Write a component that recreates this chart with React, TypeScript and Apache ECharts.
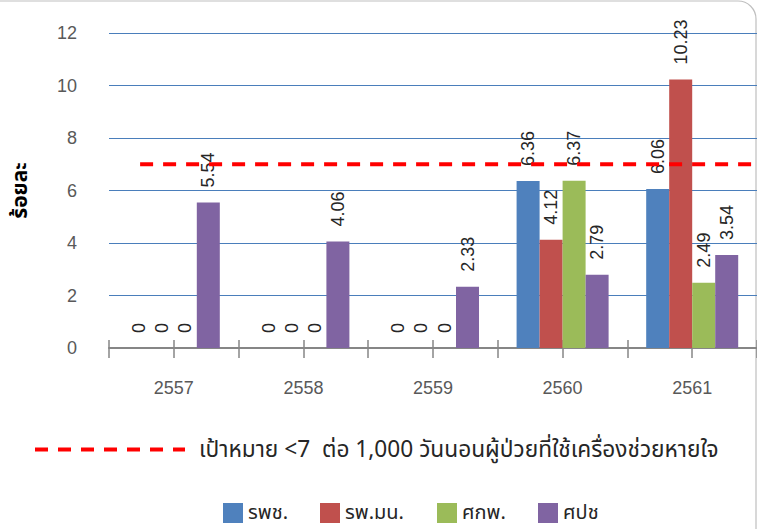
import React, { useEffect, useRef } from "react";
import * as echarts from "echarts";

// Fiscal years (Buddhist calendar)
const YEARS = ["2557", "2558", "2559", "2560", "2561"];

// Rates per unit, one array per unit
const SERIES_NAMES = ["รพช.", "รพ.มน.", "ศกพ.", "ศปช"];
const RPCH = [0, 0, 0, 6.36, 6.06];
const RPMN = [0, 0, 0, 4.12, 10.23];
const SKP = [0, 0, 0, 6.37, 2.49];
const SPCH = [5.54, 4.06, 2.33, 2.79, 3.54];
const SERIES_VALUES = [RPCH, RPMN, SKP, SPCH];
const SERIES_COLORS = ["#4F81BD", "#C0504D", "#9BBB59", "#8064A2"];

// Target line (value 7), spanning from a quarter into the first year to the end
const TARGET = 7;
const TARGET_SPAN = [0.24, 5];
const TARGET_NAME = "เป้าหมาย <7  ต่อ 1,000 วันนอนผู้ป่วยที่ใช้เครื่องช่วยหายใจ";

// Value axis ticks
const Y_MIN = 0;
const Y_MAX = 12;
const Y_STEP = 2;
const Y_NAME = "ร้อยละ";

// Tick slots: two per year (boundary + middle)
const TICK_SLOTS = YEARS.flatMap((y) => [y + "a", y + "b"]);

const LATIN = "'Liberation Sans', Arial, sans-serif";
const THAI = "'Noto Sans Thai', 'Noto Sans', Tahoma, sans-serif";

const LEGEND_LEFTS = [218, 315, 432, 533];

export default function App() {
  const ref = useRef<HTMLDivElement>(null);

  useEffect(() => {
    if (!ref.current) return;
    const chart = echarts.init(ref.current, undefined, { renderer: "svg" });

    const barSeries = SERIES_NAMES.map((name, i) => ({
      name,
      type: "bar",
      xAxisIndex: 0,
      yAxisIndex: 0,
      data: SERIES_VALUES[i],
      barGap: "0%",
      barCategoryGap: "29%",
      itemStyle: { color: SERIES_COLORS[i] },
      label: {
        show: true,
        position: "top",
        rotate: 90,
        align: "left",
        verticalAlign: "middle",
        distance: 15,
        fontFamily: LATIN,
        fontSize: 18,
        color: "#262626",
      },
      z: 3,
    }));

    const option = {
      animation: false,
      backgroundColor: "#ffffff",
      grid: { left: 109, right: -9, top: 33, bottom: 181, containLabel: false },
      xAxis: [
        {
          type: "category",
          data: YEARS,
          axisLine: { lineStyle: { color: "#868686", width: 2 } },
          axisTick: { show: false },
          axisLabel: { fontFamily: LATIN, fontSize: 18, color: "#595959", margin: 31 },
          splitLine: { show: false },
        },
        {
          type: "category",
          data: TICK_SLOTS,
          position: "bottom",
          offset: -8,
          axisLine: { show: false },
          axisTick: { show: true, length: 18, lineStyle: { color: "#868686", width: 1.5 } },
          axisLabel: { show: false },
          splitLine: { show: false },
        },
        {
          type: "value",
          min: 0,
          max: YEARS.length,
          show: false,
        },
      ],
      yAxis: {
        type: "value",
        min: Y_MIN,
        max: Y_MAX,
        interval: Y_STEP,
        name: Y_NAME,
        nameLocation: "middle",
        nameGap: 78,
        nameRotate: 90,
        nameTextStyle: { fontFamily: THAI, fontSize: 21, fontWeight: "bold", color: "#000000" },
        axisLine: { show: false },
        axisTick: { show: false },
        axisLabel: { fontFamily: LATIN, fontSize: 18, color: "#595959", margin: 32 },
        splitLine: { lineStyle: { color: "#4A7EBB", width: 1 } },
      },
      legend: [
        {
          data: [TARGET_NAME],
          left: 28,
          top: 433,
          itemWidth: 150,
          itemHeight: 20,
          itemStyle: { opacity: 0 },
          lineStyle: { width: 4, type: [13, 10], color: "#FF0000" },
          textStyle: { fontFamily: THAI, fontSize: 22.7, color: "#262626", padding: [0, 0, 0, 9] },
        },
        ...SERIES_NAMES.map((name, i) => ({
          data: [name],
          left: LEGEND_LEFTS[i],
          top: 497,
          padding: [5, 5, 0, 5],
          icon: "rect",
          itemWidth: 20,
          itemHeight: 20,
          textStyle: { fontFamily: THAI, fontSize: 20, lineHeight: 22, color: "#262626" },
        })),
      ],
      series: [
        ...barSeries,
        {
          name: TARGET_NAME,
          type: "line",
          xAxisIndex: 2,
          yAxisIndex: 0,
          data: TARGET_SPAN.map((x) => [x, TARGET]),
          symbol: "none",
          lineStyle: { color: "#FF0000", width: 4, type: [13, 10] },
          itemStyle: { color: "#FF0000" },
          z: 5,
        },
      ],
      graphic: [
        {
          type: "rect",
          shape: { x: -30, y: 1, width: 786, height: 600, r: 18 },
          style: { fill: "none", stroke: "#BFBFBF", lineWidth: 1.2 },
          silent: true,
          z: 0,
        },
      ],
    };

    chart.setOption(option as any);
    return () => chart.dispose();
  }, []);

  return (
    <div
      ref={ref}
      style={{ position: "absolute", left: 0, top: 0, width: 757, height: 529 }}
    />
  );
}
